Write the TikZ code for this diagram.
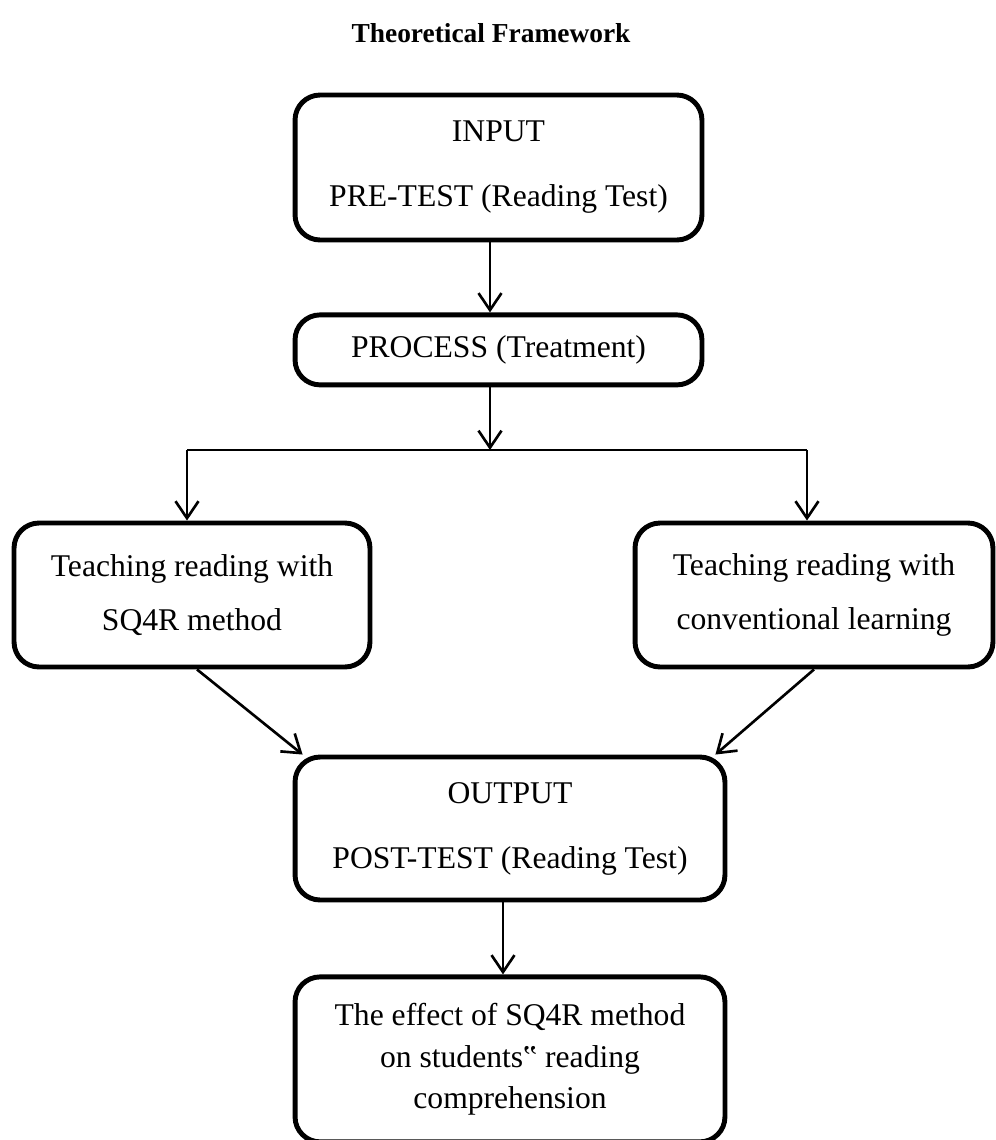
\documentclass[tikz,border=0pt]{standalone}
\usepackage{fontspec}
\setmainfont{Liberation Serif}
\usetikzlibrary{positioning,arrows.meta}

\begin{document}
\begin{tikzpicture}[x=0.02cm, y=-0.02cm,
                    box/.style={draw, line width=2.8pt, rounded corners=0.5cm, align=center,
                                minimum width=8.14cm, font=\fontsize{18}{37}\selectfont},
                    arr/.style={-{Straight Barb[length=0.34cm,width=0.46cm]}, line width=1.5pt},
                    link/.style={line width=1.2pt}
                    ]
    \useasboundingbox (0,0) rectangle (996,1140);
    \node (title) at (491,33) {\fontsize{15.6}{18}\selectfont\bfseries Theoretical Framework};
    \node (input) [box, minimum height=2.9cm] at (498.5,167.5) {INPUT\\PRE-TEST (Reading Test)};
    \node (process) [box, minimum height=1.4cm, below=1.4cm of input] {PROCESS (Treatment)};
    \coordinate (split) at (490,450);
    \node (sq4r) [box, minimum width=7.12cm, minimum height=2.88cm,
                  font=\fontsize{18}{31}\selectfont] at (192,595) {Teaching reading with\\SQ4R method};
    \node (conv) [box, minimum width=7.16cm, minimum height=2.88cm,
                  font=\fontsize{18}{31}\selectfont] at (814,595) {Teaching reading with\\conventional learning};
    \node (output) [box, minimum width=8.6cm, minimum height=2.86cm] at (510,828.5) {OUTPUT\\POST-TEST (Reading Test)};
    \node (effect) [box, minimum width=8.6cm, minimum height=3.3cm, below=1.44cm of output,
                    font=\fontsize{18}{23.5}\selectfont] {The effect of SQ4R method\\on students‟ reading\\comprehension};
    % main flow
    \draw[arr] (input.south -| split) -- (process.north -| split);
    \draw[arr] (process.south -| split) -- (split);
    % branches to the two treatments
    \draw[link] (split) -- (split -| 187,0) coordinate (splitL);
    \draw[link] (split) -- (split -| 807,0) coordinate (splitR);
    \draw[arr] (splitL) -- (splitL |- sq4r.north);
    \draw[arr] (splitR) -- (splitR |- conv.north);
    \draw[arr] ([xshift=0.1cm]sq4r.south) -- ([xshift=0.2cm]output.north west);
    \draw[arr] (conv.south) -- ([xshift=-0.24cm]output.north east);
    \draw[arr] ([xshift=-0.14cm]output.south) -- ([xshift=-0.14cm]effect.north);
\end{tikzpicture}
\end{document}
